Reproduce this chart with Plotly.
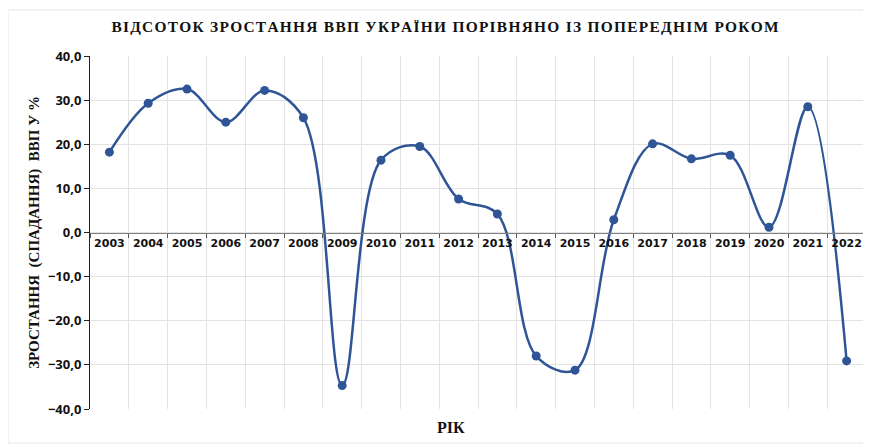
import plotly.graph_objects as go

years = [str(y) for y in range(2003, 2023)]
growth = [18.2, 29.3, 32.5, 25.0, 32.2, 26.0, -34.7, 16.4, 19.5, 7.6,
          4.2, -28.0, -31.2, 2.9, 20.1, 16.7, 17.5, 1.2, 28.5, -29.1]
y_ticks = [-40, -30, -20, -10, 0, 10, 20, 30, 40]

title_text = "ВІДСОТОК ЗРОСТАННЯ ВВП УКРАЇНИ ПОРІВНЯНО ІЗ ПОПЕРЕДНІМ РОКОМ"
y_title = "ЗРОСТАННЯ  (СПАДАННЯ)  ВВП У %"
x_title = "РІК"

# page body has an 8px margin, so the figure is drawn 8px in from the window corner
OFF = 8
W, H = 871 - OFF, 445 - OFF
ml, mt = 90 - OFF, 56 - OFF
mr = W - (866 - OFF)
mb = H - (409 - OFF)
pw, ph = W - ml - mr, H - mt - mb

blue = "#2F5597"

def spaced(s):
    return "\u200a".join(s)

fig = go.Figure()
fig.add_trace(go.Scatter(
    x=years, y=growth, mode="lines+markers",
    line=dict(color=blue, width=2.5, shape="spline", smoothing=1.0),
    marker=dict(color=blue, size=9),
    cliponaxis=False,
    hoverinfo="x+y",
))

fig.update_layout(
    width=W, height=H,
    margin=dict(l=ml, r=mr, t=mt, b=mb, autoexpand=False),
    paper_bgcolor="white", plot_bgcolor="white",
    separators=", ",
    showlegend=False,
    title=dict(
        text="<b>" + spaced(title_text) + "</b>",
        x=(445 - OFF) / W, xanchor="center", xref="container",
        y=1 - (27 - OFF) / H, yanchor="middle", yref="container",
        font=dict(family="Liberation Serif", size=15.4, color="#111111"),
    ),
    xaxis=dict(
        type="category",
        range=[-0.5, 19.5],
        anchor="free", position=0.5,
        tickson="boundaries",
        tickangle=0,
        automargin=False,
        showgrid=True, gridcolor="#E3E3E3", gridwidth=1,
        showline=True, linecolor="#7F7F7F", linewidth=1,
        ticks="outside", ticklen=4, tickcolor="#555555",
        tickfont=dict(family="DejaVu Sans", size=11, color="#111111", weight="bold"),
        zeroline=False,
        fixedrange=True,
    ),
    yaxis=dict(
        range=[-40, 40],
        tickvals=y_ticks,
        tickformat=".1f",
        automargin=False,
        showgrid=True, gridcolor="#E3E3E3", gridwidth=1,
        showline=True, linecolor="#222222", linewidth=1,
        ticks="outside", ticklen=5, tickcolor="#222222",
        tickfont=dict(family="Open Sans", size=13, color="#111111", weight="bold"),
        zeroline=False,
        title=dict(
            text="<b>" + y_title + "</b>",
            font=dict(family="Liberation Serif", size=15, color="#111111"),
            standoff=4,
        ),
        fixedrange=True,
    ),
)

fig.add_annotation(
    text="<b>" + x_title + "</b>",
    xref="paper", yref="paper",
    x=(451 - 90) / pw, y=-(427 - 409) / ph,
    xanchor="center", yanchor="middle",
    showarrow=False,
    font=dict(family="Liberation Serif", size=16, color="#111111"),
)

# faint chart-area border
fig.add_shape(
    type="rect", xref="paper", yref="paper",
    x0=(8 - 90) / pw, x1=(870 - 90) / pw,
    y0=-(443 - 409) / ph, y1=1 + (56 - 10) / ph,
    line=dict(color="#E6E6E6", width=1), layer="below",
)

fig.write_html("out.html")
